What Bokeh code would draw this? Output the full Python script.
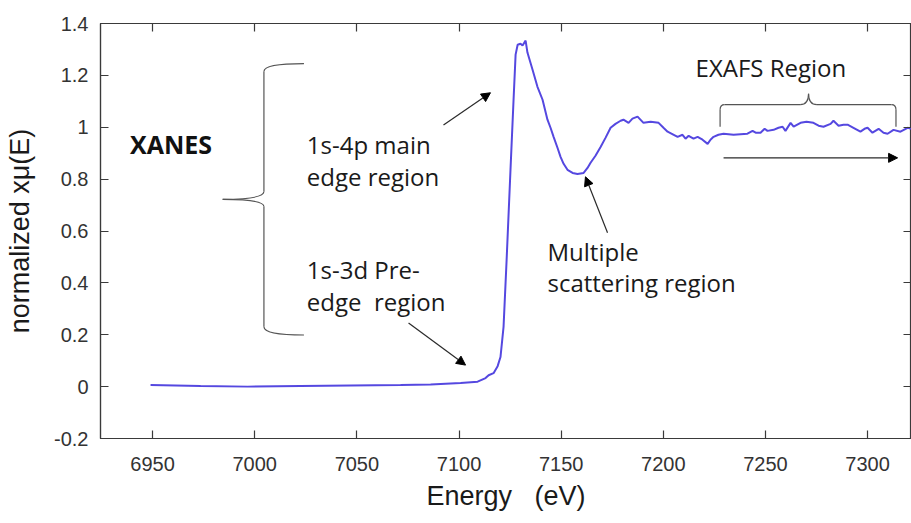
from bokeh.plotting import figure
from bokeh.models import FixedTicker, LinearAxis, Arrow, NormalHead, Range1d
from bokeh.core.properties import value
from bokeh.embed import file_html
from bokeh.resources import INLINE

# ---- data -------------------------------------------------------------
energy = [6949.0, 6973.5, 6996.5, 7022.4, 7046.9, 7071.4, 7086.1, 7100.8, 7109.1, 7113.0,
          7114.5, 7116.9, 7118.9, 7120.3, 7121.8, 7123.3, 7125.2, 7126.7, 7127.7, 7128.7,
          7130.1, 7131.1, 7132.6, 7133.5, 7136.0, 7138.4, 7140.9, 7143.3, 7144.8, 7146.3,
          7148.2, 7149.7, 7151.2, 7153.1, 7155.6, 7158.0, 7161.0, 7162.9, 7164.4, 7166.8,
          7169.3, 7171.7, 7174.2, 7176.6, 7179.1, 7180.5, 7183.0, 7184.9, 7187.4, 7190.3,
          7193.8, 7197.7, 7200.1, 7202.1, 7207.0, 7209.4, 7210.9, 7212.4, 7214.8, 7216.8,
          7219.2, 7221.7, 7223.1, 7224.6, 7227.0, 7229.5, 7234.4, 7241.2, 7243.7, 7245.2,
          7247.6, 7249.6, 7251.0, 7254.0, 7256.4, 7258.4, 7259.8, 7262.3, 7263.8, 7267.2,
          7270.1, 7273.5, 7276.0, 7278.4, 7281.9, 7283.3, 7285.8, 7288.2, 7290.2, 7293.1,
          7296.5, 7298.5, 7300.0, 7302.4, 7305.4, 7307.8, 7309.8, 7312.7, 7316.1, 7319.6,
          7321.5]
mu = [0.006, 0.002, 0.000, 0.002, 0.004, 0.006, 0.008, 0.014, 0.019, 0.033,
      0.044, 0.052, 0.079, 0.114, 0.230, 0.488, 0.836, 1.106, 1.280, 1.318,
      1.322, 1.315, 1.334, 1.288, 1.222, 1.156, 1.106, 1.029, 0.998, 0.963,
      0.921, 0.886, 0.859, 0.836, 0.824, 0.820, 0.824, 0.843, 0.863, 0.890,
      0.924, 0.959, 0.998, 1.013, 1.025, 1.029, 1.017, 1.033, 1.041, 1.017,
      1.021, 1.017, 0.998, 0.983, 0.963, 0.971, 0.956, 0.967, 0.956, 0.963,
      0.952, 0.936, 0.952, 0.963, 0.971, 0.975, 0.971, 0.975, 0.986, 0.979,
      0.979, 0.994, 0.986, 0.990, 0.998, 1.002, 0.986, 1.017, 1.002, 1.017,
      1.021, 1.017, 1.006, 1.002, 1.013, 1.025, 1.006, 1.010, 1.010, 0.998,
      0.983, 0.994, 0.998, 0.979, 0.994, 0.979, 0.975, 0.990, 0.983, 0.998,
      0.994]

x_ticks = [6950, 7000, 7050, 7100, 7150, 7200, 7250, 7300]
y_ticks = [-0.2, 0.0, 0.2, 0.4, 0.6, 0.8, 1.0, 1.2, 1.4]
y_tick_labels = ["-0.2", "0", "0.2", "0.4", "0.6", "0.8", "1", "1.2", "1.4"]

x_title = "Energy\u00a0\u00a0\u00a0(eV)"
y_title = "normalized xμ(E)"

ANNOT_FONT = "Open Sans"
AXIS_FONT = "Liberation Sans"
SPINE = "#3a3a3a"

# ---- figure -----------------------------------------------------------
p = figure(width=911, height=523, output_backend="svg", toolbar_location=None,
           x_range=Range1d(6924.5, 7321.5), y_range=Range1d(-0.2, 1.4),
           min_border_left=100, min_border_right=0, min_border_top=23,
           min_border_bottom=85)
p.background_fill_color = "white"
p.border_fill_color = "white"
p.outline_line_color = SPINE
p.outline_line_width = 1.2
p.xgrid.visible = False
p.ygrid.visible = False

ax = p.xaxis[0]
ax.ticker = FixedTicker(ticks=x_ticks)
ax.axis_label = x_title
ay = p.yaxis[0]
ay.ticker = FixedTicker(ticks=y_ticks)
ay.major_label_overrides = {t: l for t, l in zip(y_ticks, y_tick_labels)}
ay.axis_label = y_title

for a in (ax, ay):
    a.major_tick_in = 8
    a.major_tick_out = 0
    a.minor_tick_line_color = None
    a.axis_line_color = SPINE
    a.axis_line_width = 1.2
    a.major_tick_line_color = SPINE
    a.major_tick_line_width = 1.2
    a.major_label_text_font = AXIS_FONT
    a.major_label_text_font_size = "20px"
    a.major_label_text_color = "#333333"
    a.axis_label_text_font = AXIS_FONT
    a.axis_label_text_font_size = "27px"
    a.axis_label_text_font_style = "normal"
    a.axis_label_text_color = "#1a1a1a"
ax.major_label_standoff = 18
ax.axis_label_standoff = 7
ay.major_label_standoff = 12
ay.axis_label_standoff = 16

# mirrored tick marks (no labels) on top and right
top = LinearAxis(ticker=FixedTicker(ticks=x_ticks), major_tick_in=8, major_tick_out=0,
                 minor_tick_line_color=None, major_label_text_font_size="1px",
                 major_label_text_color=None, major_label_standoff=0,
                 axis_line_color=SPINE, axis_line_width=1.2,
                 major_tick_line_color=SPINE, major_tick_line_width=1.2)
p.add_layout(top, "above")
right = LinearAxis(ticker=FixedTicker(ticks=y_ticks), major_tick_in=8, major_tick_out=0,
                   minor_tick_line_color=None, major_label_text_font_size="1px",
                   major_label_text_color=None, major_label_standoff=0,
                   axis_line_color=SPINE, axis_line_width=1.2,
                   major_tick_line_color=SPINE, major_tick_line_width=1.2)
p.add_layout(right, "right")

# ---- spectrum ---------------------------------------------------------
p.line(energy, mu, line_color="#5548e0", line_width=2.0)

# ---- braces -----------------------------------------------------------
BR = "#555555"
# XANES brace (left)
p.segment(x0=[7004.5, 7004.5], y0=[1.215, 0.694], x1=[7004.5, 7004.5], y1=[0.752, 0.231],
          line_color=BR, line_width=1.2)
p.quadratic(x0=[7024.1, 7004.5, 6984.3, 7004.5],
            y0=[1.245, 0.752, 0.722, 0.231],
            x1=[7004.5, 6984.3, 7004.5, 7024.1],
            y1=[1.215, 0.722, 0.694, 0.199],
            cx=[7004.5, 7004.5, 7004.5, 7004.5],
            cy=[1.245, 0.722, 0.722, 0.199],
            line_color=BR, line_width=1.2)
# EXAFS bracket (top)
p.segment(x0=[7227.8, 7230.0, 7275.2, 7313.9],
          y0=[1.002, 1.087, 1.087, 1.067],
          x1=[7227.8, 7267.0, 7311.7, 7313.9],
          y1=[1.067, 1.087, 1.087, 1.002],
          line_color=BR, line_width=1.2)
p.quadratic(x0=[7227.8, 7267.0, 7271.1, 7311.7],
            y0=[1.067, 1.087, 1.129, 1.087],
            x1=[7230.0, 7271.1, 7275.2, 7313.9],
            y1=[1.087, 1.129, 1.087, 1.067],
            cx=[7227.8, 7271.1, 7271.1, 7313.9],
            cy=[1.087, 1.087, 1.087, 1.087],
            line_color=BR, line_width=1.2)

# ---- arrows -----------------------------------------------------------
arrows = [
    (7092.4, 1.009, 7115.4, 1.133),   # main edge
    (7075.3, 0.245, 7103.2, 0.083),   # pre-edge
    (7172.7, 0.593, 7161.9, 0.809),   # multiple scattering
    (7229.5, 0.882, 7314.7, 0.882),   # EXAFS
]
for xs, ys, xe, ye in arrows:
    p.add_layout(Arrow(x_start=xs, y_start=ys, x_end=xe, y_end=ye,
                       line_color="#2a2a2a", line_width=1.2,
                       end=NormalHead(size=9, fill_color="black", line_color="black")))

# ---- texts ------------------------------------------------------------
p.text(x=[6939.0], y=[0.935], text=["XANES"], text_font=value(ANNOT_FONT),
       text_font_size="25px", text_font_style="bold", text_color="#111111",
       text_baseline="alphabetic", text_align="left")
labels = [
    (7025.5, 0.935, "1s-4p main"),
    (7025.5, 0.812, "edge region"),
    (7025.5, 0.450, "1s-3d Pre-"),
    (7025.5, 0.328, "edge\u00a0\u00a0region"),
    (7143.3, 0.522, "Multiple"),
    (7143.3, 0.400, "scattering region"),
    (7215.8, 1.232, "EXAFS Region"),
]
p.text(x=[l[0] for l in labels], y=[l[1] for l in labels], text=[l[2] for l in labels],
       text_font=value(ANNOT_FONT), text_font_size="24px", text_color="#1a1a1a",
       text_baseline="alphabetic", text_align="left")

open("out.html", "w").write(file_html(p, INLINE))
